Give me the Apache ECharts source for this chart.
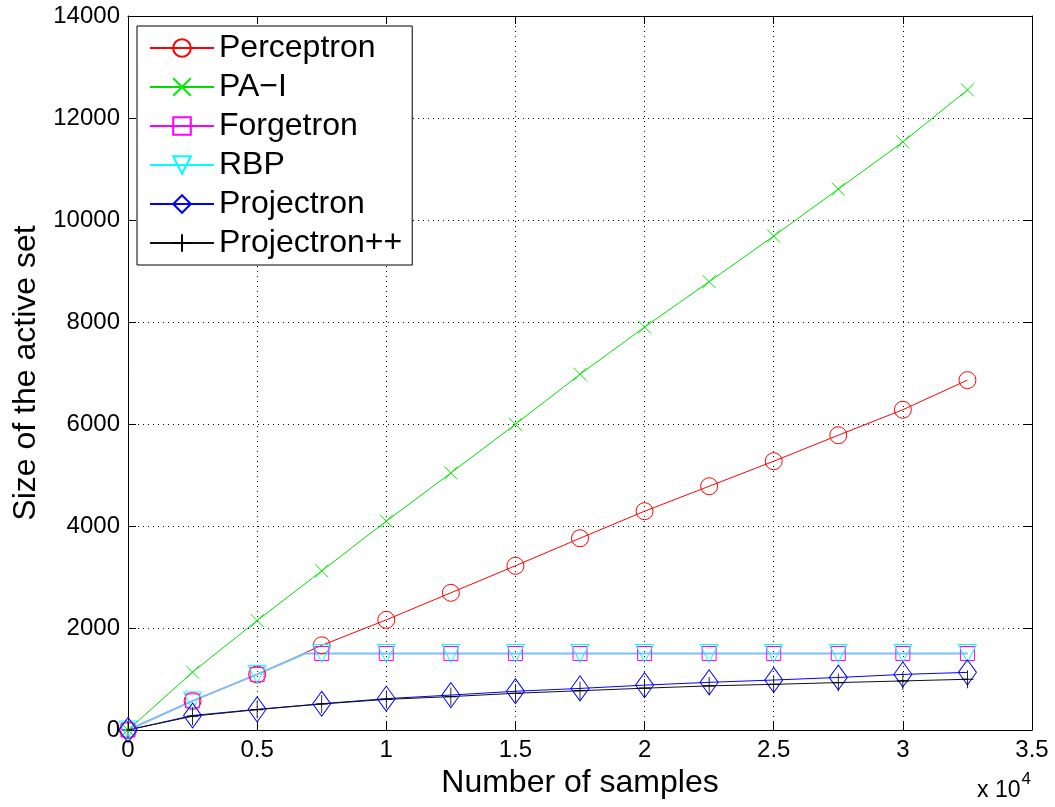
<!DOCTYPE html>
<html><head><meta charset="utf-8">
<script src="https://cdn.jsdelivr.net/npm/echarts@6/dist/echarts.min.js"></script>
<style>html,body{margin:0;padding:0;background:#fff}#c{width:1055px;height:807px}</style>
</head><body><div id="c"></div>
<script>
var samples = [0, 2500, 5000, 7500, 10000, 12500, 15000, 17500, 20000, 22500, 25000, 27500, 30000, 32500];
var perceptron = [0, 570, 1090, 1660, 2160, 2690, 3220, 3760, 4290, 4780, 5270, 5780, 6280, 6860];
var paI = [0, 1135, 2145, 3120, 4095, 5040, 5995, 6975, 7900, 8790, 9685, 10605, 11530, 12550];
var forgetron = [0, 570, 1090, 1500, 1500, 1500, 1500, 1500, 1500, 1500, 1500, 1500, 1500, 1500];
var rbp = [0, 570, 1090, 1500, 1500, 1500, 1500, 1500, 1500, 1500, 1500, 1500, 1500, 1500];
var budgetKink = [6860, 1500];
var projectron = [0, 285, 405, 515, 615, 685, 760, 815, 880, 935, 980, 1030, 1090, 1130];
var projectronPP = [0, 270, 400, 510, 600, 655, 720, 770, 820, 865, 895, 930, 962, 995];
var xTicks = [0, 0.5, 1, 1.5, 2, 2.5, 3, 3.5];
var yTicks = [0, 2000, 4000, 6000, 8000, 10000, 12000, 14000];

var FONT = '"Liberation Sans", Arial, Helvetica, sans-serif';
function pairs(vals) { return samples.map(function (x, i) { return [x, vals[i]]; }); }
function withKink(vals) {
  var d = pairs(vals);
  d.splice(3, 0, { value: budgetKink, symbol: 'none' });
  return d;
}
var crossPath = 'path://M0,0L10,10M10,0L0,10';
var plusPath = 'path://M5,0L5,10M0,5L10,5';

var chart = echarts.init(document.getElementById('c'), null, { renderer: 'canvas' });
function mk(name, data, color, lineColor, symbol, size, extra) {
  var s = {
    name: name, type: 'line', data: data, symbol: symbol, symbolSize: size,
    showAllSymbol: true, xAxisIndex: 0, yAxisIndex: 0,
    lineStyle: { color: lineColor || color, width: 1 },
    itemStyle: { color: 'rgba(0,0,0,0)', borderColor: color, borderWidth: 1 },
    emphasis: { disabled: true }, animation: false, z: 3
  };
  if (extra) for (var k in extra) s[k] = extra[k];
  return s;
}
var option = {
  animation: false,
  backgroundColor: '#fff',
  grid: { left: 128, right: 23, top: 16, bottom: 77, containLabel: false },
  xAxis: [{
    type: 'value', min: 0, max: 35000, interval: 5000, position: 'bottom',
    name: 'Number of samples', nameLocation: 'middle', nameGap: 34,
    nameTextStyle: { fontFamily: FONT, fontSize: 32, color: '#000' },
    axisLine: { show: true, onZero: false, lineStyle: { color: '#000', width: 1 } },
    axisTick: { show: true, inside: true, length: 8, lineStyle: { color: '#000' } },
    axisLabel: { fontFamily: FONT, fontSize: 24, color: '#000', margin: 8,
      formatter: function (v) { return String(xTicks[Math.round(v / 5000)]); } },
    splitLine: { show: true, lineStyle: { color: '#000', type: [1, 4], width: 1 } }
  }, {
    type: 'value', min: 0, max: 35000, interval: 5000, position: 'top',
    axisLine: { show: true, onZero: false, lineStyle: { color: '#000', width: 1 } },
    axisTick: { show: true, inside: true, length: 8, lineStyle: { color: '#000' } },
    axisLabel: { show: false }, splitLine: { show: false }
  }],
  yAxis: [{
    type: 'value', min: 0, max: 14000, interval: 2000, position: 'left',
    name: 'Size of the active set', nameLocation: 'middle', nameGap: 86,
    nameTextStyle: { fontFamily: FONT, fontSize: 32, color: '#000' },
    axisLine: { show: true, onZero: false, lineStyle: { color: '#000', width: 1 } },
    axisTick: { show: true, inside: true, length: 8, lineStyle: { color: '#000' } },
    axisLabel: { fontFamily: FONT, fontSize: 24, color: '#000', margin: 8,
      formatter: function (v) { return String(yTicks[Math.round(v / 2000)]); } },
    splitLine: { show: true, lineStyle: { color: '#000', type: [1, 4], width: 1 } }
  }, {
    type: 'value', min: 0, max: 14000, interval: 2000, position: 'right',
    axisLine: { show: true, onZero: false, lineStyle: { color: '#000', width: 1 } },
    axisTick: { show: true, inside: true, length: 8, lineStyle: { color: '#000' } },
    axisLabel: { show: false }, splitLine: { show: false }
  }],
  legend: {
    orient: 'vertical', left: 137, top: 26,
    backgroundColor: '#fff', borderColor: '#000', borderWidth: 1,
    padding: [6, 10, 6, 12], itemWidth: 64, itemHeight: 22, itemGap: 7,
    selectedMode: false,
    textStyle: { fontFamily: FONT, fontSize: 32, color: '#000' },
    data: [
      { name: 'Perceptron' }, { name: 'PA\u2212I' }, { name: 'Forgetron' },
      { name: 'RBP', lineStyle: { color: '#00ffff' } },
      { name: 'Projectron' }, { name: 'Projectron++' }
    ]
  },
  graphic: [{
    type: 'text', left: 977, top: 771, z: 10,
    style: {
      text: '{a|x 10}{b|4}', fill: '#000',
      rich: {
        a: { fontFamily: FONT, fontSize: 23, color: '#000', verticalAlign: 'bottom' },
        b: { fontFamily: FONT, fontSize: 17, color: '#000', verticalAlign: 'top', padding: [0, 0, 14, 1] }
      }
    }
  }],
  series: [
    mk('Perceptron', pairs(perceptron), '#ff0000', null, 'circle', 17),
    mk('PA\u2212I', pairs(paI), '#00ee00', '#00dd00', crossPath, 13),
    mk('Forgetron', withKink(forgetron), '#ff00ff', null, 'rect', 14),
    mk('RBP', withKink(rbp), '#00ffff', '#7cc0f6', 'triangle', [18, 18], { symbolRotate: 180, lineStyle: { color: '#7cc0f6', width: 2 } }),
    mk('Projectron', pairs(projectron), '#0000ff', null, 'diamond', [18, 25]),
    mk('Projectron++', pairs(projectronPP), '#000000', '#111111', plusPath, [12, 18])
  ]
};
chart.setOption(option);
</script></body></html>
